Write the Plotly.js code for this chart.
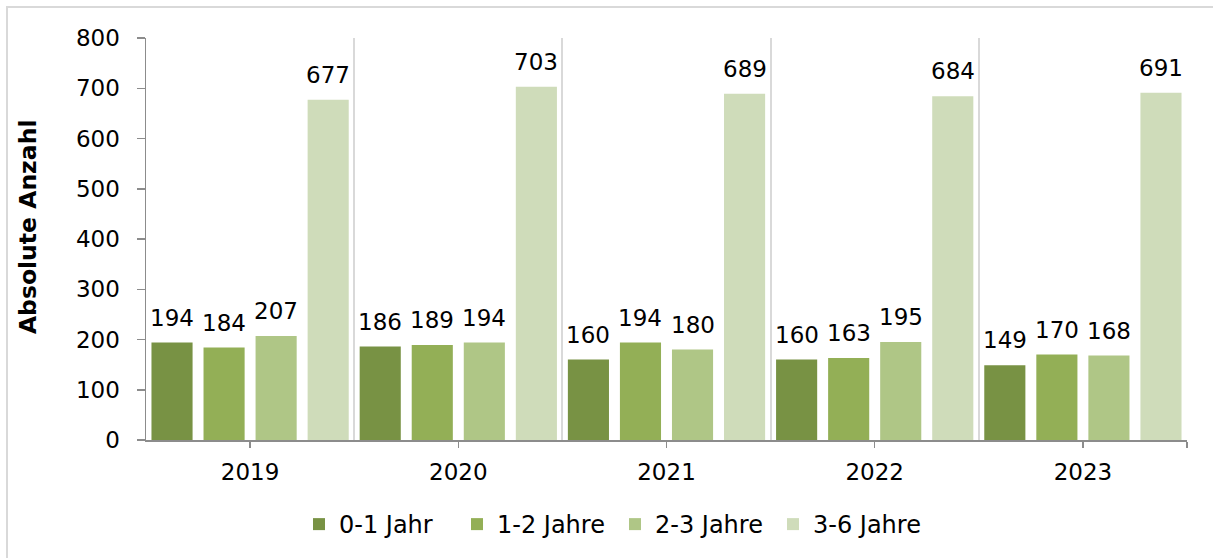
<!DOCTYPE html>
<html>
<head>
<meta charset="utf-8">
<script src="https://cdn.plot.ly/plotly-3.0.1.min.js"></script>
<style>
  html, body { margin: 0; padding: 0; background: #fff; overflow: hidden; }
  #wrap { position: relative; width: 1213px; height: 558px; }
  #chart { position: absolute; left: 0; top: 0; width: 1213px; height: 558px; }
  #frame { position: absolute; left: 6px; top: 6px; width: 1300px; height: 700px;
           border-left: 2px solid #d9d9d9; border-top: 2px solid #d9d9d9; pointer-events: none; }
</style>
</head>
<body>
<div id="wrap">
  <div id="chart"></div>
  <div id="frame"></div>
</div>
<script>
// ---- data ----
const years = ['2019', '2020', '2021', '2022', '2023'];
const seriesNames = ['0-1 Jahr', '1-2 Jahre', '2-3 Jahre', '3-6 Jahre'];
const age01 = [194, 186, 160, 160, 149];
const age12 = [184, 189, 194, 163, 170];
const age23 = [207, 194, 180, 195, 168];
const age36 = [677, 703, 689, 684, 691];
const seriesValues = [age01, age12, age23, age36];
const colors = ['#789244', '#93af56', '#afc686', '#cfdcba'];
const yTitle = 'Absolute Anzahl';

const FONT = 'DejaVu Sans, Verdana, sans-serif';
const xIdx = years.map((_, i) => i);
const nSeries = seriesValues.length;
const groupGap = 0.21;

const traces = seriesValues.map((vals, j) => ({
  type: 'bar',
  name: seriesNames[j],
  x: xIdx,
  y: vals,
  marker: { color: colors[j], line: { width: 0 } },
  hoverinfo: 'x+y+name'
}));

// data labels placed above each bar (bar slot centre = category + offset)
const annotations = [];
seriesValues.forEach((vals, j) => {
  vals.forEach((v, i) => {
    annotations.push({
      x: i + (j - (nSeries - 1) / 2) / nSeries,
      y: v,
      xref: 'x', yref: 'y',
      text: String(v),
      showarrow: false,
      yanchor: 'bottom',
      yshift: 10,
      font: { family: FONT, size: 23, color: '#000' }
    });
  });
});

// y-axis title
annotations.push({
  xref: 'paper', yref: 'paper',
  x: -0.1134, y: 0.532,
  xanchor: 'center', yanchor: 'middle',
  textangle: -90,
  showarrow: false,
  text: '<b>' + yTitle + '</b>',
  font: { family: FONT, size: 23.5, color: '#000' }
});

const layout = {
  width: 1213,
  height: 558,
  margin: { l: 146, r: 26, t: 38, b: 118 },
  paper_bgcolor: '#ffffff',
  plot_bgcolor: '#ffffff',
  barmode: 'group',
  bargap: 0,
  bargroupgap: groupGap,
  showlegend: true,
  legend: {
    orientation: 'h',
    xref: 'container', yref: 'container',
    x: 0.507, xanchor: 'center',
    y: 0.06, yanchor: 'middle',
    font: { family: FONT, size: 24, color: '#000' },
    itemwidth: 30,
    entrywidth: 113,
    entrywidthmode: 'pixels',
    tracegroupgap: 0
  },
  xaxis: {
    range: [-0.5, 4.5],
    tickmode: 'array',
    tickvals: xIdx.concat([4.5]),
    ticktext: years.concat(['']),
    ticks: 'outside',
    ticklen: 6,
    tickwidth: 1.5,
    tickcolor: '#8c8c8c',
    showline: true,
    linecolor: '#8c8c8c',
    linewidth: 1.5,
    showgrid: false,
    zeroline: false,
    ticklabelstandoff: 5,
    tickfont: { family: FONT, size: 23, color: '#000' },
    minor: {
      tickmode: 'array',
      tickvals: [0.5, 1.5, 2.5, 3.5, 4.5],
      showgrid: true,
      gridcolor: '#d9d9d9',
      gridwidth: 2,
      ticks: ''
    },
    fixedrange: true
  },
  yaxis: {
    range: [0, 800],
    tickmode: 'linear',
    tick0: 0,
    dtick: 100,
    ticks: 'outside',
    ticklen: 8,
    tickwidth: 1.5,
    tickcolor: '#8c8c8c',
    showline: true,
    linecolor: '#8c8c8c',
    linewidth: 1.5,
    showgrid: false,
    zeroline: false,
    ticklabelstandoff: 12,
    tickfont: { family: FONT, size: 23, color: '#000' },
    fixedrange: true
  },
  annotations: annotations
};

Plotly.newPlot('chart', traces, layout, { displayModeBar: false, staticPlot: true });
</script>
</body>
</html>
